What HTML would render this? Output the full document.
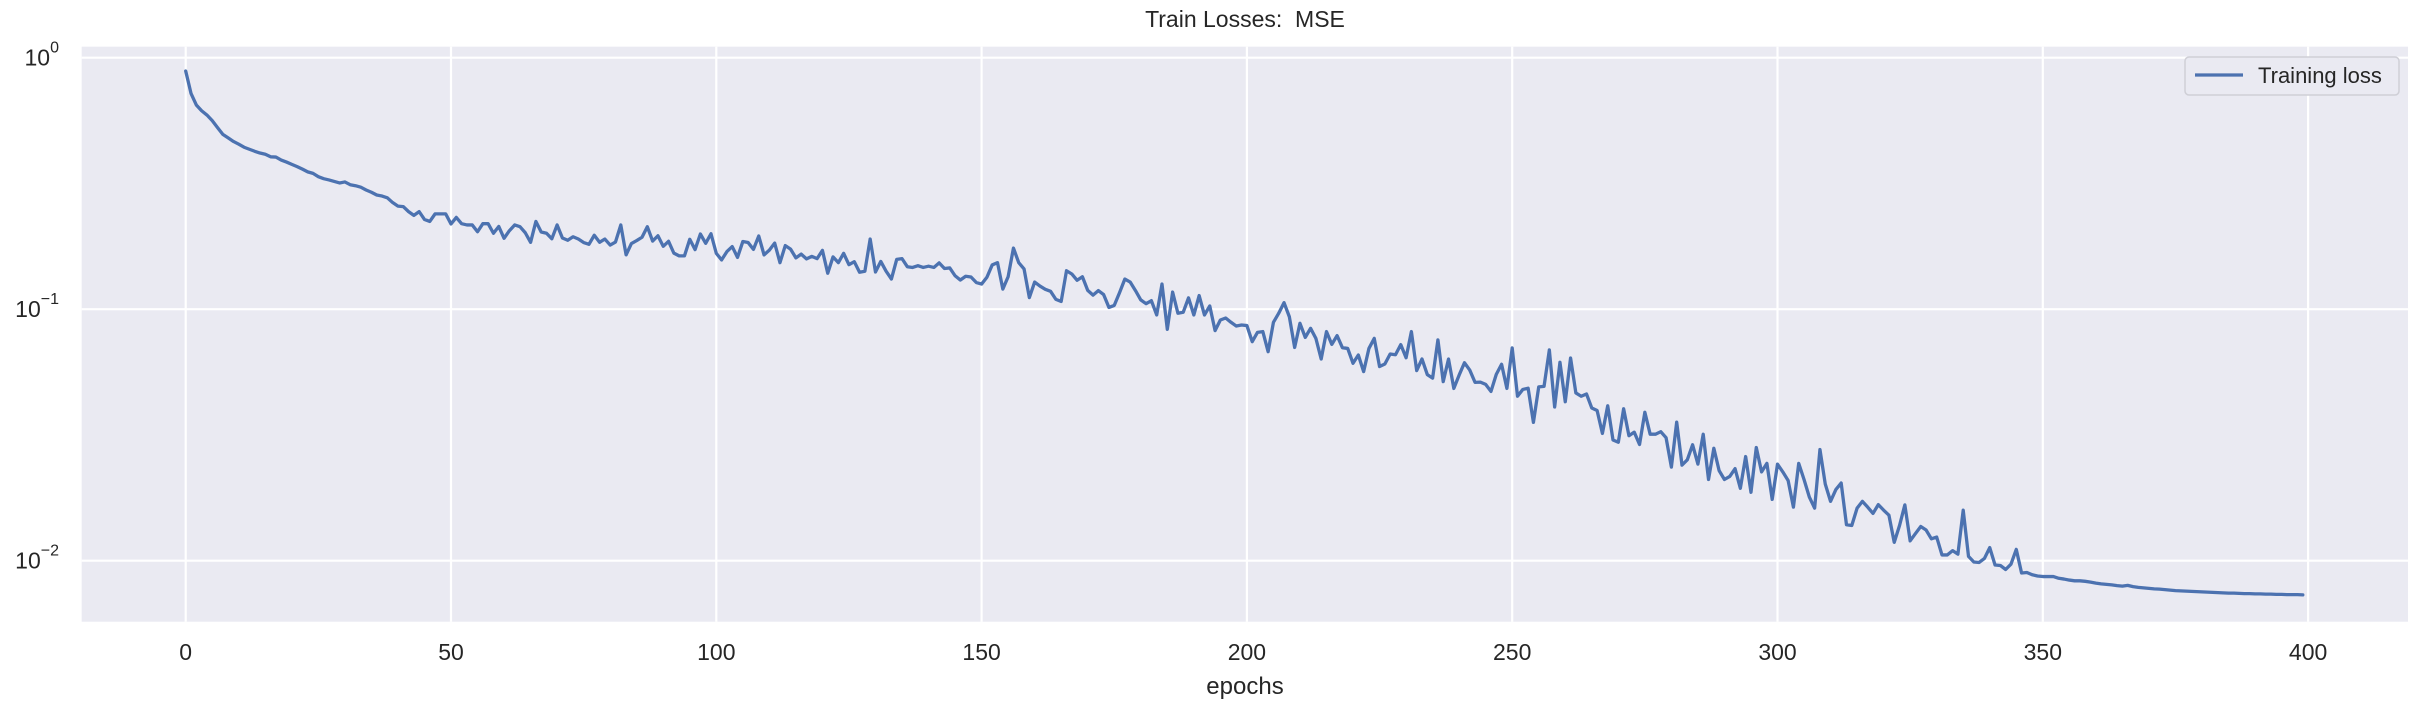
<!DOCTYPE html>
<html><head><meta charset="utf-8"><style>
html,body{margin:0;padding:0;background:#fff;}
svg{display:block;font-family:"Liberation Sans","DejaVu Sans",sans-serif;}
</style></head><body>
<svg id="chart" width="2420" height="709" viewBox="0 0 2420 709" xmlns="http://www.w3.org/2000/svg">
<rect x="81.7" y="46.7" width="2326.3" height="575" fill="#eaeaf2"/>
<g id="grid"></g>
<g id="series"></g>
<g id="ticks"></g>
<text x="1245" y="27" font-size="23" text-anchor="middle" fill="#262626" xml:space="preserve">Train Losses:  MSE</text>
<text x="1245" y="694" font-size="24" text-anchor="middle" fill="#262626">epochs</text>
<g>
<rect x="2185" y="57" width="214" height="38" rx="4" fill="#eaeaf2" stroke="#cfcfd6" stroke-width="1.5"/>
<line x1="2195" y1="75" x2="2243" y2="75" stroke="#4c72b0" stroke-width="3.3"/>
<text x="2258" y="83" font-size="22" fill="#262626">Training loss</text>
</g>
</svg>
<script>
const xTicks = [0, 50, 100, 150, 200, 250, 300, 350, 400];
const yTickExps = [0, -1, -2];
const lossLog10 = [
-0.053,-0.142,-0.188,-0.211,-0.228,-0.250,-0.278,-0.305,-0.319,-0.333,
-0.344,-0.356,-0.364,-0.372,-0.379,-0.384,-0.394,-0.395,-0.407,-0.415,
-0.424,-0.433,-0.443,-0.454,-0.460,-0.473,-0.481,-0.486,-0.492,-0.498,
-0.494,-0.505,-0.509,-0.515,-0.526,-0.535,-0.546,-0.550,-0.557,-0.576,
-0.590,-0.592,-0.612,-0.627,-0.612,-0.643,-0.651,-0.621,-0.621,-0.621,
-0.661,-0.635,-0.660,-0.665,-0.665,-0.692,-0.660,-0.660,-0.698,-0.671,
-0.718,-0.688,-0.665,-0.672,-0.696,-0.734,-0.651,-0.693,-0.698,-0.720,
-0.665,-0.717,-0.726,-0.712,-0.721,-0.735,-0.742,-0.706,-0.734,-0.721,
-0.745,-0.733,-0.665,-0.784,-0.739,-0.727,-0.714,-0.672,-0.729,-0.708,
-0.750,-0.730,-0.777,-0.788,-0.788,-0.722,-0.763,-0.701,-0.738,-0.700,
-0.778,-0.804,-0.771,-0.751,-0.794,-0.731,-0.735,-0.762,-0.709,-0.784,
-0.765,-0.737,-0.815,-0.747,-0.761,-0.796,-0.781,-0.800,-0.790,-0.799,
-0.766,-0.857,-0.792,-0.815,-0.778,-0.823,-0.811,-0.853,-0.849,-0.721,
-0.852,-0.810,-0.849,-0.880,-0.802,-0.799,-0.831,-0.834,-0.827,-0.834,
-0.829,-0.834,-0.816,-0.838,-0.836,-0.867,-0.884,-0.869,-0.872,-0.894,
-0.900,-0.873,-0.824,-0.815,-0.920,-0.871,-0.757,-0.815,-0.840,-0.954,
-0.892,-0.908,-0.921,-0.929,-0.961,-0.969,-0.847,-0.860,-0.885,-0.871,
-0.925,-0.944,-0.926,-0.942,-0.993,-0.985,-0.934,-0.880,-0.892,-0.926,
-0.963,-0.978,-0.966,-1.023,-0.900,-1.080,-0.932,-1.016,-1.012,-0.955,
-1.023,-0.946,-1.023,-0.987,-1.085,-1.043,-1.035,-1.052,-1.067,-1.063,
-1.065,-1.129,-1.092,-1.089,-1.169,-1.052,-1.016,-0.974,-1.030,-1.152,
-1.056,-1.112,-1.076,-1.116,-1.198,-1.089,-1.140,-1.105,-1.153,-1.156,
-1.215,-1.182,-1.248,-1.156,-1.116,-1.228,-1.218,-1.178,-1.181,-1.141,
-1.193,-1.089,-1.244,-1.198,-1.260,-1.274,-1.122,-1.288,-1.198,-1.315,
-1.262,-1.213,-1.242,-1.291,-1.290,-1.299,-1.327,-1.259,-1.219,-1.315,
-1.154,-1.346,-1.319,-1.314,-1.450,-1.309,-1.307,-1.162,-1.389,-1.211,
-1.368,-1.194,-1.333,-1.346,-1.337,-1.393,-1.403,-1.494,-1.384,-1.520,
-1.529,-1.396,-1.503,-1.489,-1.538,-1.410,-1.497,-1.497,-1.487,-1.511,
-1.628,-1.449,-1.620,-1.599,-1.539,-1.616,-1.497,-1.677,-1.553,-1.642,
-1.677,-1.665,-1.634,-1.712,-1.586,-1.728,-1.550,-1.647,-1.613,-1.756,
-1.616,-1.647,-1.681,-1.787,-1.613,-1.677,-1.747,-1.791,-1.558,-1.695,
-1.764,-1.717,-1.691,-1.857,-1.860,-1.791,-1.764,-1.787,-1.812,-1.777,
-1.799,-1.819,-1.927,-1.860,-1.778,-1.921,-1.892,-1.864,-1.878,-1.913,
-1.906,-1.977,-1.977,-1.960,-1.974,-1.799,-1.983,-2.005,-2.007,-1.991,
-1.948,-2.017,-2.019,-2.035,-2.014,-1.955,-2.049,-2.047,-2.056,-2.061,
-2.063,-2.063,-2.063,-2.070,-2.073,-2.077,-2.080,-2.080,-2.082,-2.085,
-2.089,-2.092,-2.094,-2.096,-2.099,-2.101,-2.098,-2.103,-2.106,-2.108,
-2.110,-2.112,-2.113,-2.115,-2.117,-2.119,-2.120,-2.121,-2.122,-2.123,
-2.124,-2.125,-2.126,-2.127,-2.128,-2.129,-2.129,-2.130,-2.131,-2.131,
-2.132,-2.132,-2.133,-2.133,-2.134,-2.134,-2.135,-2.135,-2.135,-2.136
];
const epochs = lossLog10.map((_, i) => i);

const NS = 'http://www.w3.org/2000/svg';
const X0 = 185.7, PX_PER_EPOCH = 5.306;
const Y_TOP_EXP = 57.7, PX_PER_DECADE = 251.5;
const PLOT = {left: 81.7, right: 2408, top: 46.7, bottom: 621.7};
function xScale(e) { return X0 + e * PX_PER_EPOCH; }
function yScale(logv) { return Y_TOP_EXP - logv * PX_PER_DECADE; }
function mk(tag, attrs, parent) {
  const el = document.createElementNS(NS, tag);
  for (const k in attrs) el.setAttribute(k, attrs[k]);
  parent.appendChild(el);
  return el;
}
const grid = document.getElementById('grid');
const ticks = document.getElementById('ticks');
const series = document.getElementById('series');

xTicks.forEach(t => {
  const x = xScale(t);
  const g = mk('line', {x1: x, x2: x, y1: PLOT.top, y2: PLOT.bottom, stroke: '#fff', 'stroke-width': 2.2}, grid);
  
  
  const lb = mk('text', {x: x, y: 660, 'font-size': 23, 'text-anchor': 'middle', fill: '#262626'}, ticks);
  
  
  lb.textContent = String(t);
});
yTickExps.forEach(ex => {
  const y = yScale(ex);
  const g = mk('line', {x1: PLOT.left, x2: PLOT.right, y1: y, y2: y, stroke: '#fff', 'stroke-width': 2.2}, grid);
  
  
  const lb = mk('text', {x: 59, y: y + 8, 'font-size': 23, 'text-anchor': 'end', fill: '#262626'}, ticks);
  
  
  const base = mk('tspan', {}, lb);
  base.textContent = '10';
  const sup = mk('tspan', {dy: -13, 'font-size': 16}, lb);
  sup.textContent = ex === 0 ? '0' : '\u2212' + Math.abs(ex);
});

const d = lossLog10.map((v, i) => (i ? 'L' : 'M') + xScale(epochs[i]).toFixed(2) + ' ' + yScale(v).toFixed(2)).join(' ');
const path = mk('path', {d: d, fill: 'none', stroke: '#4c72b0', 'stroke-width': 3.3, 'stroke-linejoin': 'round', 'stroke-linecap': 'round'}, series);


</script>
</body></html>
